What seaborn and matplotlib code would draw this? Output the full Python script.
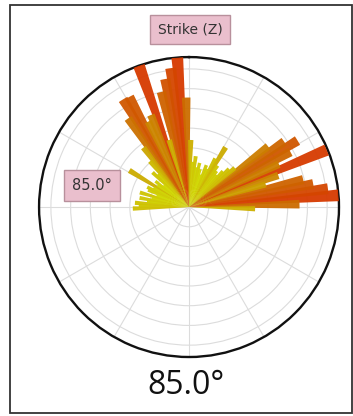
import numpy as np
import pandas as pd
import seaborn as sns
import matplotlib.pyplot as plt
from matplotlib.patches import Rectangle

# rose diagram data: bin centre (compass degrees, negative = west of north) and bar length
bin_centres = [-91.5, -88.5, -85.5, -82.5, -79.5, -76.5, -73.5, -70.5, -67.5, -64.5,
               -61.5, -58.5, -55.5, -52.5, -49.5, -46.5, -43.5, -40.5, -37.5, -34.5,
               -31.5, -28.5, -25.5, -22.5, -19.5, -16.5, -13.5, -10.5, -7.5, -4.5,
               -1.5, 1.5, 4.5, 7.5, 10.5, 13.5, 16.5, 19.5, 22.5, 25.5,
               28.5, 31.5, 34.5, 37.5, 40.5, 43.5, 46.5, 49.5, 52.5, 55.5,
               58.5, 61.5, 64.5, 67.5, 70.5, 73.5, 76.5, 79.5, 82.5, 85.5,
               88.5, 91.5]
counts = [5.7, 5.1, 5.5, 4.3, 5.1, 3.9, 5.2, 3.5, 4.5, 4.7,
          4.1, 7.1, 3.9, 4.3, 3.4, 5.1, 4.6, 6.1, 7.6, 10.9,
          12.8, 12.7, 9.6, 10.1, 15.2, 7.1, 12.0, 13.2, 14.2, 15.2,
          11.1, 6.8, 4.6, 5.2, 4.1, 4.6, 4.0, 3.5, 4.6, 4.3,
          5.6, 7.1, 5.1, 4.6, 4.3, 5.0, 5.6, 6.1, 10.1, 11.7,
          12.9, 11.7, 10.1, 15.1, 9.6, 8.1, 11.9, 12.8, 14.2, 15.2,
          11.2, 6.7]
bin_width = 4.5
r_ticks = [2, 4, 6, 8, 10, 12, 14]
r_max = 15.2

title_text = "Strike (Z)"
dip_text = "85.0°"

df = pd.DataFrame({"angle": bin_centres, "count": counts})
# long bars first so the short ones sit on top
df = df.sort_values("count", ascending=False)

sns.set_theme(style="white")
cmap = sns.blend_palette(["#d0d800", "#cca800", "#cc6a00", "#d63a00"], as_cmap=True)
norm = plt.Normalize(3.5, 15.2)

fig = plt.figure(figsize=(3.53, 4.16), dpi=100)
ax = fig.add_axes([0.1105, 0.1418, 0.85, 0.721], projection="polar")
ax.set_theta_zero_location("N")
ax.set_theta_direction(-1)

ax.bar(np.deg2rad(df["angle"]), df["count"], width=np.deg2rad(bin_width),
       color=cmap(norm(df["count"])), edgecolor="none", alpha=0.95, zorder=3)

ax.set_ylim(0, r_max)
ax.set_rticks(r_ticks)
ax.set_yticklabels([])
ax.set_thetagrids(np.arange(0, 360, 30), labels=[])
ax.grid(True, color="#dcdcdc", linewidth=0.8)
ax.spines["polar"].set_color("#111111")
ax.spines["polar"].set_linewidth(1.7)

box = dict(boxstyle="square,pad=0.55", facecolor="#eabfcd", edgecolor="#b8909c", linewidth=1)
fig.text(0.538, 0.929, title_text, ha="center", va="center", fontsize=10,
         color="#333333", bbox=box)
fig.text(0.261, 0.555, dip_text, ha="center", va="center", fontsize=10.5,
         color="#333333", bbox=box)
fig.text(0.527, 0.074, dip_text, ha="center", va="center", fontsize=23,
         family="Open Sans", color="#111111")

fig.patches.append(Rectangle((0.027, 0.007), 0.97, 0.982, transform=fig.transFigure,
                             fill=False, edgecolor="#333333", linewidth=1.3))

fig.savefig("out.png", dpi=100)
